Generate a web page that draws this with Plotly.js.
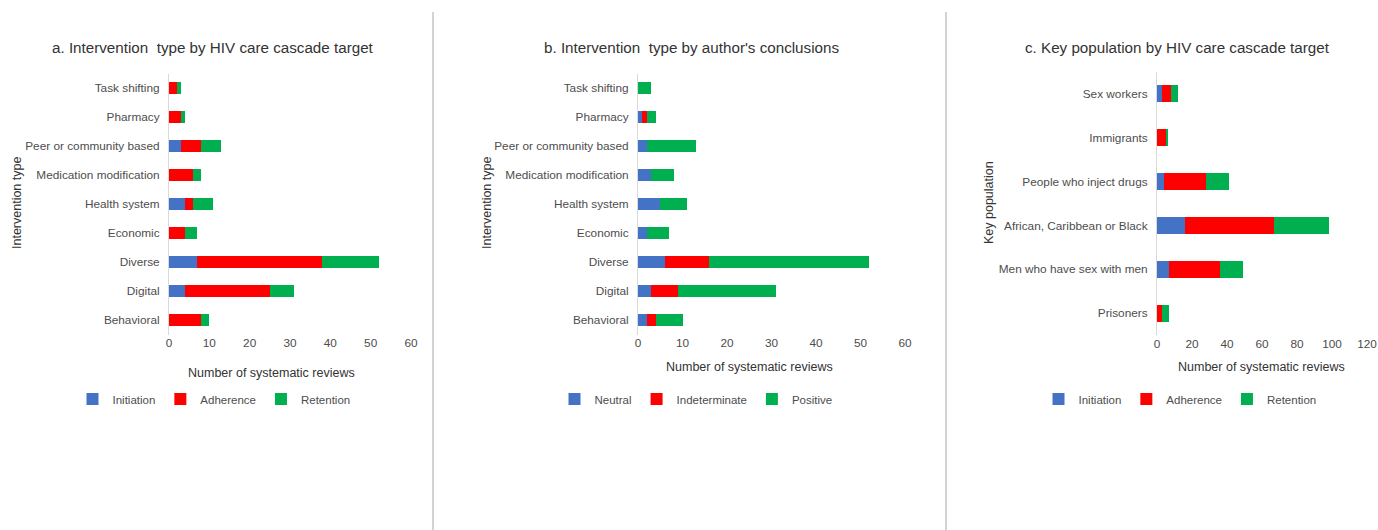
<!DOCTYPE html>
<html><head><meta charset="utf-8">
<script src="https://cdn.plot.ly/plotly-3.0.1.min.js"></script>
<style>html,body{margin:0;padding:0;background:#fff}#chart{width:1378px;height:530px}</style>
</head><body><div id="chart"></div>
<script>
// Panel a: Intervention type by HIV care cascade target
const interventionTypes = ["Task shifting","Pharmacy","Peer or community based","Medication modification","Health system","Economic","Diverse","Digital","Behavioral"];
const aInitiation = [0,0,3,0,4,0,7,4,0];
const aAdherence  = [2,3,5,6,2,4,31,21,8];
const aRetention  = [1,1,5,2,5,3,14,6,2];
// Panel b: Intervention type by author's conclusions
const bNeutral       = [0,1,2,3,5,2,6,3,2];
const bIndeterminate = [0,1,0,0,0,0,10,6,2];
const bPositive      = [3,2,11,5,6,5,36,22,6];
// Panel c: Key population by HIV care cascade target
const keyPopulations = ["Sex workers","Immigrants","People who inject drugs","African, Caribbean or Black","Men who have sex with men","Prisoners"];
const cInitiation = [3,0,4,16,7,0];
const cAdherence  = [5,5,24,51,29,3];
const cRetention  = [4,1,13,31,13,4];

const W = 1378, H = 530;
const BLUE = "#4472C4", RED = "#FF0000", GREEN = "#00B050";
const FONT = "Liberation Sans, Arial, sans-serif";
const px = v => v / W;
const py = v => 1 - v / H;

function bar(name, y, x, color, xa, ya, legend) {
  return {type:"bar", orientation:"h", name, y, x, xaxis:xa, yaxis:ya, legend,
    marker:{color, line:{width:0}}, hoverinfo:"x+y+name"};
}

const data = [
  bar("Initiation", interventionTypes, aInitiation, BLUE, "x", "y", "legend"),
  bar("Adherence", interventionTypes, aAdherence, RED, "x", "y", "legend"),
  bar("Retention", interventionTypes, aRetention, GREEN, "x", "y", "legend"),
  bar("Neutral", interventionTypes, bNeutral, BLUE, "x2", "y2", "legend2"),
  bar("Indeterminate", interventionTypes, bIndeterminate, RED, "x2", "y2", "legend2"),
  bar("Positive", interventionTypes, bPositive, GREEN, "x2", "y2", "legend2"),
  bar("Initiation", keyPopulations, cInitiation, BLUE, "x3", "y3", "legend3"),
  bar("Adherence", keyPopulations, cAdherence, RED, "x3", "y3", "legend3"),
  bar("Retention", keyPopulations, cRetention, GREEN, "x3", "y3", "legend3")
];

const tickFont = {family:FONT, size:11.8, color:"#4d4d4d"};
function xax(domain, max, dtick, anchor) {
  return {domain, range:[0,max], dtick, tick0:0, showgrid:false, zeroline:false,
    showline:false, ticks:"", tickfont:tickFont, anchor, fixedrange:true};
}
function yax(domain, anchor) {
  return {domain, autorange:"reversed", type:"category", showgrid:false, zeroline:false,
    showline:true, linecolor:"#d9d9d9", linewidth:1, ticks:"", ticklen:0,
    tickfont:tickFont, anchor, fixedrange:true, ticklabelstandoff:6};
}
const legendBase = {orientation:"h", font:{family:FONT, size:11.5, color:"#4d4d4d"},
  bgcolor:"rgba(0,0,0,0)", yanchor:"middle", xanchor:"center", itemwidth:30, traceorder:"normal"};

const titleFont = {family:FONT, size:15.2, color:"#333333"};
const axTitleFont = {family:FONT, size:12.5, color:"#333333"};
function ann(text, x, y, font, extra) {
  return Object.assign({text, x:px(x), y:py(y), xref:"paper", yref:"paper", showarrow:false,
    font, xanchor:"center", yanchor:"middle"}, extra||{});
}

const layout = {
  width:W, height:H, margin:{l:0,r:0,t:0,b:0}, paper_bgcolor:"#fff", plot_bgcolor:"#fff",
  barmode:"stack", bargap:0.61, showlegend:true,
  xaxis: xax([px(169), px(411)], 60, 10, "y"),
  yaxis: yax([py(334.5), py(73.5)], "x"),
  xaxis2: xax([px(638), px(905)], 60, 10, "y2"),
  yaxis2: yax([py(334.5), py(73.5)], "x2"),
  xaxis3: xax([px(1157), px(1367)], 120, 20, "y3"),
  yaxis3: yax([py(335), py(72)], "x3"),
  legend: Object.assign({}, legendBase, {x:px(214), y:py(399)}),
  legend2: Object.assign({}, legendBase, {x:px(696), y:py(399)}),
  legend3: Object.assign({}, legendBase, {x:px(1180), y:py(399)}),
  annotations: [
    ann("a. Intervention  type by HIV care cascade target", 213, 48, titleFont),
    ann("b. Intervention  type by author's conclusions", 691, 48, titleFont),
    ann("c. Key population by HIV care cascade target", 1177, 48, titleFont),
    ann("Number of systematic reviews", 271, 373, axTitleFont),
    ann("Number of systematic reviews", 750, 367, axTitleFont),
    ann("Number of systematic reviews", 1261, 367, axTitleFont),
    ann("Intervention type", 17, 203, axTitleFont, {textangle:-90}),
    ann("Intervention type", 487, 203, axTitleFont, {textangle:-90}),
    ann("Key population", 989, 203, axTitleFont, {textangle:-90})
  ],
  shapes: [
    {type:"line", xref:"paper", yref:"paper", x0:px(433), x1:px(433), y0:py(12), y1:0, line:{color:"#a6a6a6", width:1}},
    {type:"line", xref:"paper", yref:"paper", x0:px(946), x1:px(946), y0:py(12), y1:0, line:{color:"#a6a6a6", width:1}}
  ]
};

Plotly.newPlot("chart", data, layout, {displayModeBar:false, staticPlot:true});
</script>
</body></html>
